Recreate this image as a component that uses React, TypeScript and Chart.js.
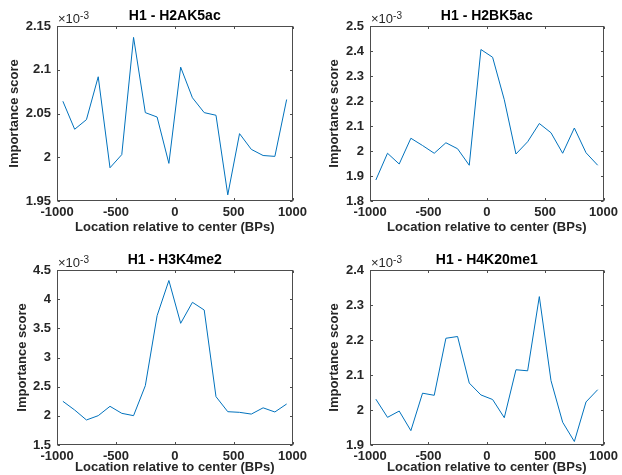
import React, { useEffect, useRef } from 'react';
import { Chart, registerables } from 'chart.js';

Chart.register(...registerables);

// Bin centers (BPs relative to center)
const positions = [-950, -850, -750, -650, -550, -450, -350, -250, -150, -50, 50, 150, 250, 350, 450, 550, 650, 750, 850, 950];

// Importance scores (x 10^-3)
const h2ak5ac = [2.064, 2.032, 2.043, 2.092, 1.988, 2.003, 2.137, 2.051, 2.046, 1.993, 2.103, 2.068, 2.051, 2.048, 1.957, 2.027, 2.009, 2.002, 2.001, 2.066];
const h2bk5ac = [1.884, 1.991, 1.948, 2.051, 2.022, 1.991, 2.033, 2.009, 1.943, 2.406, 2.375, 2.205, 1.988, 2.037, 2.110, 2.073, 1.991, 2.092, 1.993, 1.943];
const h3k4me2 = [2.249, 2.100, 1.929, 2.003, 2.163, 2.043, 2.003, 2.517, 3.717, 4.320, 3.586, 3.946, 3.814, 2.329, 2.071, 2.060, 2.030, 2.137, 2.066, 2.203];
const h4k20me1 = [2.031, 1.979, 1.997, 1.941, 2.048, 2.042, 2.205, 2.210, 2.077, 2.043, 2.030, 1.978, 2.115, 2.112, 2.324, 2.084, 1.965, 1.910, 2.023, 2.058];

const titles = ['H1 - H2AK5ac', 'H1 - H2BK5ac', 'H1 - H3K4me2', 'H1 - H4K20me1'];
const xTicks = [-1000, -500, 0, 500, 1000];
const yRanges = [
  [1.95, 2.15, 0.05],
  [1.8, 2.5, 0.1],
  [1.5, 4.5, 0.5],
  [1.9, 2.4, 0.1],
];
const xLabel = 'Location relative to center (BPs)';
const yLabel = 'Importance score';
const exponentBase = '\u00d710';
const exponentPower = '-3';

const FONT = "'Liberation Sans', Arial, Helvetica, sans-serif";
const TEXT = '#262626';
const LINE = '#0072BD';

// layout of each panel: canvas origin/size and plot rectangle (relative)
const layouts = [
  { ox: 0, oy: 0, w: 311, h: 237, L: 57, T: 26, R: 293, B: 201, padL: 7, xTitlePad: 2 },
  { ox: 311, oy: 0, w: 311, h: 237, L: 59, T: 26, R: 295, B: 201, padL: 16, xTitlePad: 2 },
  { ox: 0, oy: 237, w: 311, h: 238, L: 57, T: 33, R: 293, B: 208, padL: 15, xTitlePad: 0 },
  { ox: 311, oy: 237, w: 311, h: 238, L: 59, T: 33, R: 295, B: 208, padL: 16, xTitlePad: 0 },
];

const matlabPlugin = {
  id: 'matlabBox',
  afterDraw(chart: any, _args: any, opts: any) {
    const { ctx, chartArea: a, scales } = chart;
    ctx.save();
    ctx.strokeStyle = '#4d4d4d';
    ctx.lineWidth = 1;
    const l = Math.round(a.left) + 0.5;
    const r = Math.round(a.right) - 0.5;
    const t = Math.round(a.top) + 0.5;
    const b = Math.round(a.bottom) - 0.5;
    ctx.strokeRect(l, t, r - l, b - t);
    const tl = 2.5;
    ctx.beginPath();
    for (const tk of scales.x.ticks) {
      const px = Math.round(scales.x.getPixelForValue(tk.value)) + 0.5;
      ctx.moveTo(px, b); ctx.lineTo(px, b - tl);
      ctx.moveTo(px, t); ctx.lineTo(px, t + tl);
    }
    for (const tk of scales.y.ticks) {
      const py = Math.round(scales.y.getPixelForValue(tk.value)) + 0.5;
      ctx.moveTo(l, py); ctx.lineTo(l + tl, py);
      ctx.moveTo(r, py); ctx.lineTo(r - tl, py);
    }
    ctx.stroke();

    // title
    ctx.fillStyle = '#000';
    ctx.font = `bold 14px ${FONT}`;
    ctx.textAlign = 'center';
    ctx.textBaseline = 'middle';
    ctx.fillText(opts.title, (a.left + a.right) / 2, a.top - 10);

    // exponent
    ctx.fillStyle = TEXT;
    ctx.textAlign = 'left';
    ctx.textBaseline = 'alphabetic';
    ctx.font = `13px ${FONT}`;
    ctx.fillText(opts.expBase, a.left + 1, a.top - 3);
    const w = ctx.measureText(opts.expBase).width;
    ctx.font = `10px ${FONT}`;
    ctx.fillText(opts.expPow, a.left + 1 + w, a.top - 7);
    ctx.restore();
  },
};

const fmt = (v: any) => String(+Number(v).toFixed(3));

function Panel({ idx, values }: { idx: number; values: number[] }) {
  const ref = useRef<HTMLCanvasElement>(null);
  const lay = layouts[idx];
  useEffect(() => {
    const [yMin, yMax, yStep] = yRanges[idx];
    const chart = new Chart(ref.current as HTMLCanvasElement, {
      type: 'line',
      data: {
        datasets: [
          {
            data: positions.map((p, i) => ({ x: p, y: values[i] })),
            borderColor: LINE,
            borderWidth: 1,
            pointRadius: 0,
            tension: 0,
            fill: false,
          },
        ],
      },
      options: {
        responsive: false,
        animation: false,
        devicePixelRatio: 1,
        layout: { padding: { left: lay.padL, top: lay.T, right: lay.w - lay.R, bottom: 0 } },
        plugins: {
          legend: { display: false },
          tooltip: { enabled: false },
          title: { display: false },
          matlabBox: { title: titles[idx], expBase: exponentBase, expPow: exponentPower },
        } as any,
        scales: {
          x: {
            type: 'linear',
            min: xTicks[0],
            max: xTicks[xTicks.length - 1],
            afterBuildTicks: (s: any) => { s.ticks = xTicks.map((v) => ({ value: v })); },
            afterFit: (s: any) => { s.height = lay.h - lay.B; },
            grid: { display: false, drawTicks: false },
            border: { display: false },
            ticks: {
              padding: 4,
              maxRotation: 0,
              autoSkip: false,
              color: TEXT,
              font: { family: FONT, size: 13, weight: 'bold' },
              callback: (v: any) => String(v),
            },
            title: {
              display: true,
              text: xLabel,
              color: TEXT,
              padding: { top: 0, bottom: lay.xTitlePad },
              font: { family: FONT, size: 13, weight: 'bold' },
            },
          },
          y: {
            type: 'linear',
            min: yMin,
            max: yMax,
            afterBuildTicks: (s: any) => {
              const arr = [];
              const n = Math.round((yMax - yMin) / yStep);
              for (let i = 0; i <= n; i++) arr.push({ value: +(yMin + i * yStep).toFixed(4) });
              s.ticks = arr;
            },
            afterFit: (s: any) => { s.width = lay.L - lay.padL; },
            grid: { display: false, drawTicks: false },
            border: { display: false },
            ticks: {
              padding: 6,
              autoSkip: false,
              color: TEXT,
              font: { family: FONT, size: 13, weight: 'bold' },
              callback: fmt,
            },
            title: {
              display: true,
              text: yLabel,
              color: TEXT,
              padding: { top: 0, bottom: 0 },
              font: { family: FONT, size: 13, weight: 'bold' },
            },
          },
        },
      } as any,
      plugins: [matlabPlugin],
    });
    return () => chart.destroy();
  }, [idx, values]);
  return (
    <div style={{ position: 'absolute', left: lay.ox, top: lay.oy, width: lay.w, height: lay.h }}>
      <canvas ref={ref} width={lay.w} height={lay.h} style={{ width: lay.w, height: lay.h, display: 'block' }} />
    </div>
  );
}

export default function App() {
  const series = [h2ak5ac, h2bk5ac, h3k4me2, h4k20me1];
  return (
    <div style={{ position: 'absolute', left: 0, top: 0, width: 622, height: 475, background: '#fff', overflow: 'hidden' }}>
      {series.map((s, i) => (
        <Panel key={i} idx={i} values={s} />
      ))}
    </div>
  );
}
